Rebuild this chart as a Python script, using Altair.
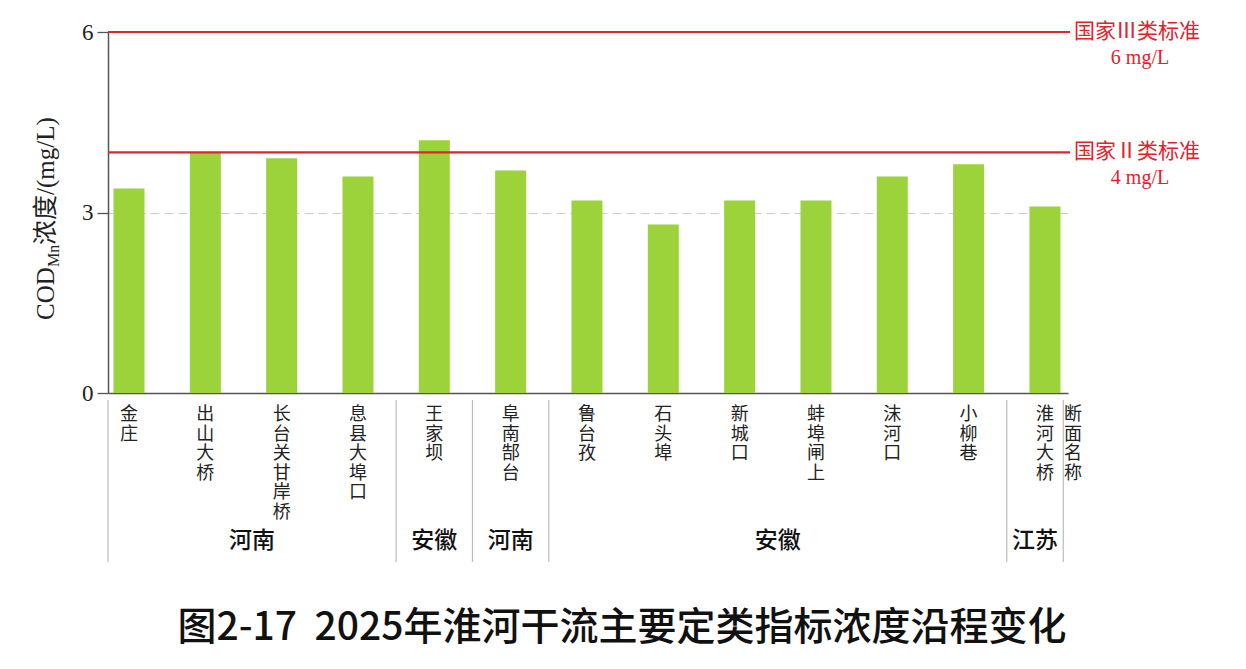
import altair as alt
import pandas as pd

# ---- data ----
stations = ["金庄", "出山大桥", "长台关甘岸桥", "息县大埠口", "王家坝", "阜南郜台",
            "鲁台孜", "石头埠", "新城口", "蚌埠闸上", "沫河口", "小柳巷", "淮河大桥"]
values = [3.4, 4.0, 3.9, 3.6, 4.2, 3.7, 3.2, 2.8, 3.2, 3.2, 3.6, 3.8, 3.1]

provinces = ["河南", "安徽", "河南", "安徽", "江苏"]
province_first = [0, 4, 5, 6, 12]
province_last = [3, 4, 5, 11, 12]

ref_values = [6, 4]
ref_names = ["国家Ⅲ类标准", "国家Ⅱ类标准"]
ref_units = ["6 mg/L", "4 mg/L"]

y_ticks = [0, 3, 6]
title_text = "图2-17\u00a0\u00a02025年淮河干流主要定类指标浓度沿程变化"

# ---- layout helpers ----
X_MIN, X_MAX = -0.275, 12.302
RIGHT_EDGE = 12.24
W, H = 960, 361
GREEN = "#9cd23a"
RED = "#e1232b"
SERIF = "Liberation Serif, Noto Sans CJK SC"
CJK = "Noto Sans CJK SC"

bars_df = pd.DataFrame({"idx": list(range(len(stations))), "station": stations,
                        "value": values,
                        "label": ["\n".join(list(s)) for s in stations]})

bounds = []
prov_rows = []
for name, a, b in zip(provinces, province_first, province_last):
    left = X_MIN if a == 0 else a - 0.5
    right = RIGHT_EDGE if b == len(stations) - 1 else b + 0.5
    bounds.append(left)
    prov_rows.append({"prov": name, "mid": (left + right) / 2})
bounds.append(RIGHT_EDGE)
sep_df = pd.DataFrame({"pos": bounds})
prov_df = pd.DataFrame(prov_rows)
ref_df = pd.DataFrame({"v": ref_values, "name": ref_names, "unit": ref_units})

xscale = alt.Scale(domain=[X_MIN, X_MAX], nice=False, zero=False, padding=0)
yscale = alt.Scale(domain=[0, 6], nice=False)

bars = alt.Chart(bars_df).mark_bar(size=31, color=GREEN).encode(
    x=alt.X("idx:Q", scale=xscale,
            axis=alt.Axis(labels=False, ticks=False, grid=False, title=None,
                          domainColor="#555555", domainWidth=1.5)),
    y=alt.Y("value:Q", scale=yscale,
            axis=alt.Axis(values=y_ticks, format="d", title=None, tickSize=11,
                          tickColor="#555555", tickWidth=1.3,
                          domainColor="#555555", domainWidth=1.5,
                          labelFont="Liberation Serif", labelFontSize=23,
                          labelColor="#222222", labelPadding=4,
                          grid=True, gridColor="#cccccc", gridDash=[9, 5],
                          gridWidth=1)),
)

ref_rules = alt.Chart(ref_df).mark_rule(color=RED, strokeWidth=2.2).encode(
    y=alt.Y("v:Q", scale=yscale), x=alt.value(0), x2=alt.value(962))

ref_names_txt = alt.Chart(ref_df).mark_text(
    align="left", baseline="middle", font=CJK, fontSize=21, color=RED
).encode(y=alt.Y("v:Q", scale=yscale), x=alt.value(966), text="name:N")

ref_units_txt = alt.Chart(ref_df).mark_text(
    align="center", baseline="middle", font="Liberation Serif", fontSize=20,
    color=RED, dy=26
).encode(y=alt.Y("v:Q", scale=yscale), x=alt.value(1032), text="unit:N")

station_txt = alt.Chart(bars_df).mark_text(
    align="center", baseline="top", font=CJK, fontSize=18, lineHeight=19.5,
    lineBreak="\n", color="#222222"
).encode(x=alt.X("idx:Q", scale=xscale), y=alt.value(374), text="label:N")

section_txt = alt.Chart(pd.DataFrame({"t": ["断\n面\n名\n称"]})).mark_text(
    align="center", baseline="top", font=CJK, fontSize=18, lineHeight=19.5,
    lineBreak="\n", color="#222222"
).encode(x=alt.value(965), y=alt.value(374), text="t:N")

seps = alt.Chart(sep_df).mark_rule(color="#bbbbbb", strokeWidth=1.2).encode(
    x=alt.X("pos:Q", scale=xscale), y=alt.value(368), y2=alt.value(530))

prov_txt = alt.Chart(prov_df).mark_text(
    align="center", baseline="middle", font=CJK, fontSize=23, fontWeight=500,
    color="#111111"
).encode(x=alt.X("mid:Q", scale=xscale), y=alt.value(509), text="prov:N")

# y-axis title composed (COD with subscript Mn)
yt1 = alt.Chart(pd.DataFrame({"t": ["COD"]})).mark_text(
    angle=270, align="left", baseline="alphabetic", font="Liberation Serif",
    fontSize=25, color="#222222"
).encode(x=alt.value(-54), y=alt.value(288), text="t:N")
yt2 = alt.Chart(pd.DataFrame({"t": ["Mn"]})).mark_text(
    angle=270, align="left", baseline="alphabetic", font="Liberation Serif",
    fontSize=16, color="#222222"
).encode(x=alt.value(-49), y=alt.value(235), text="t:N")
yt3 = alt.Chart(pd.DataFrame({"t": ["浓度/(mg/L)"]})).mark_text(
    angle=270, align="left", baseline="alphabetic", font=SERIF,
    fontSize=25, color="#222222"
).encode(x=alt.value(-54), y=alt.value(213), text="t:N")

title_txt = alt.Chart(pd.DataFrame({"t": [title_text]})).mark_text(
    align="center", baseline="middle", font=CJK, fontSize=39, fontWeight=500,
    color="#111111"
).encode(x=alt.value(514), y=alt.value(596), text="t:N")

chart = alt.layer(
    bars, ref_rules, ref_names_txt, ref_units_txt, station_txt, section_txt,
    seps, prov_txt, yt1, yt2, yt3, title_txt
).properties(
    width=W, height=H,
    autosize=alt.AutoSizeParams(type="none"),
    padding={"left": 108, "top": 32, "right": 178, "bottom": 276},
    background="white",
).configure_view(stroke=None)

chart.save("out.html", embed_options={"renderer": "svg", "actions": False})
